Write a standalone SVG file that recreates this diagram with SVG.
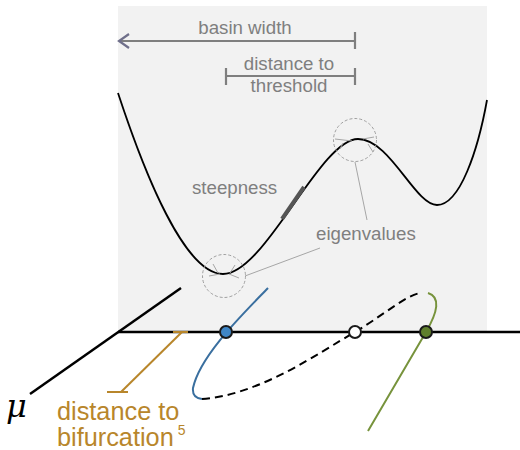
<svg xmlns="http://www.w3.org/2000/svg" width="520" height="450" viewBox="0 0 520 450">
<style>
.lbl{font-family:"Liberation Sans",Arial,sans-serif;font-size:18.7px;fill:#7f7f7f}
.gold{font-family:"Liberation Sans",Arial,sans-serif;font-size:25.3px;fill:#b8862b}
.ann{stroke:#7f7f7f;stroke-width:2.2;fill:none}
.thin{stroke:#a6a6a6;stroke-width:1;fill:none}
.circ{stroke:#a0a0a0;stroke-width:1;fill:none;stroke-dasharray:3 2}
.dot{stroke:#1a1a1a;stroke-width:2}
</style>
<rect x="118" y="6" width="369" height="326" fill="#f2f2f2"/>
<g id="potential">
<path d="M118,93 C145,175 185,274 223,274 C265,274 320,139 358,139 C390,139 415,205 437,205 C460,205 478,150 487,100" fill="none" stroke="#000" stroke-width="1.8"/>
<line x1="282" y1="219" x2="304" y2="187" stroke="#555" stroke-width="4"/>
</g>
<g id="basin-width">
<line x1="119" y1="41" x2="355" y2="41" class="ann"/>
<line x1="355" y1="32" x2="355" y2="49" class="ann"/>
<polyline points="129,34 119,41 129,48" fill="none" stroke="#6f6f8a" stroke-width="2.2"/>
<text class="lbl" x="245" y="34" text-anchor="middle">basin width</text>
</g>
<g id="threshold">
<line x1="226" y1="76" x2="355" y2="76" class="ann"/>
<line x1="226" y1="68" x2="226" y2="85" class="ann"/>
<line x1="355" y1="68" x2="355" y2="85" class="ann"/>
<text class="lbl" x="289" y="70" text-anchor="middle">distance to</text>
<text class="lbl" x="289" y="92" text-anchor="middle">threshold</text>
</g>
<g id="steepness">
<text class="lbl" x="192" y="194">steepness</text>
</g>
<g id="eigenvalues">
<circle cx="224" cy="276" r="21.5" class="circ"/>
<circle cx="355" cy="140" r="21.5" class="circ"/>
<line x1="213" y1="264" x2="218" y2="273" class="thin"/>
<line x1="209" y1="276" x2="220" y2="274" class="thin"/>
<line x1="235" y1="265" x2="230" y2="273" class="thin"/>
<line x1="229" y1="274" x2="239" y2="278" class="thin"/>
<line x1="335" y1="139" x2="352" y2="141" class="thin"/>
<line x1="340" y1="149" x2="343" y2="143" class="thin"/>
<line x1="363" y1="139" x2="374" y2="137" class="thin"/>
<line x1="368" y1="144" x2="373" y2="152" class="thin"/>
<line x1="320" y1="248" x2="245" y2="276" class="thin"/>
<line x1="367" y1="220" x2="355" y2="162" class="thin"/>
<text class="lbl" x="316" y="240">eigenvalues</text>
</g>
<g id="connectors">
<line x1="30" y1="394" x2="181" y2="288" stroke="#000" stroke-width="2.5"/>
<line x1="118" y1="332" x2="520" y2="332" stroke="#000" stroke-width="2.5"/>
<path d="M268,288 C245,312 200,355 193,388 Q192,398 202,399" fill="none" stroke="#3a6f9f" stroke-width="2"/>
<path d="M202,399 C260,395 320,352 355,332 C385,314 405,296 420,293" fill="none" stroke="#000" stroke-width="2" stroke-dasharray="8 5"/>
<path d="M428,293 C441,297 437.6,312 426,332 L368,431" fill="none" stroke="#77933c" stroke-width="2"/>
<g stroke="#b8862b" stroke-width="2" fill="none">
<line x1="173" y1="332" x2="188" y2="332"/>
<line x1="182" y1="332" x2="121" y2="392"/>
<line x1="107" y1="392" x2="128" y2="392"/>
</g>
</g>
<g id="dot-blue"><circle cx="226" cy="332" r="6" fill="#3f86c6" class="dot"/></g>
<g id="dot-white"><circle cx="355" cy="332" r="6" fill="#fff" class="dot"/></g>
<g id="dot-green"><circle cx="426" cy="332" r="6" fill="#5f7f2c" class="dot"/></g>
<g id="mu"><text x="6" y="417" font-family="DejaVu Serif,serif" font-style="italic" font-size="32" fill="#000">μ</text></g>
<g id="bifurcation">
<text class="gold" x="57" y="420">distance to</text>
<text class="gold" x="57" y="446">bifurcation<tspan font-size="14" dx="4" dy="-11">5</tspan></text>
</g>
</svg>
